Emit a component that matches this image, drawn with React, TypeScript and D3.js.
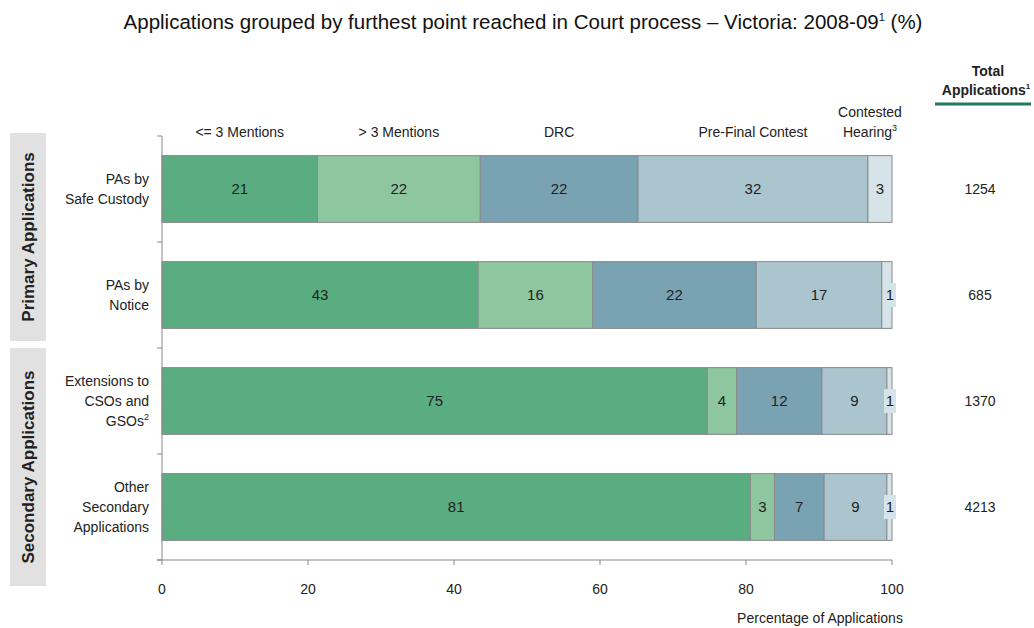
import React from "react";
import * as d3 from "d3";

const categories = ["PAs by Safe Custody", "PAs by Notice", "Extensions to CSOs and GSOs", "Other Secondary Applications"];
const categoryLines = [
  [["PAs by"], ["Safe Custody"]],
  [["PAs by"], ["Notice"]],
  [["Extensions to"], ["CSOs and"], ["GSOs", "2"]],
  [["Other"], ["Secondary"], ["Applications"]],
];
const stages = ["<= 3 Mentions", "> 3 Mentions", "DRC", "Pre-Final Contest", "Contested Hearing"];
const colors = ["#5aad80", "#8ec6a0", "#79a2b2", "#abc5cf", "#d6e3e8"];

// percentages per category, in stage order
const mentionsLow = [21.3, 43.3, 74.7, 80.6];
const mentionsHigh = [22.3, 15.7, 4.0, 3.3];
const drc = [21.6, 22.4, 11.7, 6.8];
const preFinal = [31.5, 17.2, 8.9, 8.6];
const contested = [3.3, 1.4, 0.7, 0.7];
const totals = [1254, 685, 1370, 4213];
const xTicks = [0, 20, 40, 60, 80, 100];

const groups = [
  { name: "Primary Applications", y0: 133, y1: 341 },
  { name: "Secondary Applications", y0: 348, y1: 586 },
];

const narrow = "'Liberation Sans Narrow', 'Arial Narrow', 'Liberation Sans', Arial, sans-serif";
const sans = "'Liberation Sans', Arial, sans-serif";

export default function App() {
  const width = 1034;
  const height = 628;

  const x = d3.scaleLinear().domain([0, 100]).range([162, 892]);
  const y = d3.scaleBand().domain(categories).range([136, 560]).paddingInner(0.37).paddingOuter(0.185);

  const rows = categories.map((c, i) => ({
    cat: c,
    v0: mentionsLow[i],
    v1: mentionsHigh[i],
    v2: drc[i],
    v3: preFinal[i],
    v4: contested[i],
  }));
  const stack = d3.stack().keys(["v0", "v1", "v2", "v3", "v4"])(rows as any);

  const bw = y.bandwidth();
  const step = y.step();
  const yTickPos = d3.range(categories.length + 1).map((i) => 136 + i * step);

  return (
    <svg width={width} height={height} style={{ position: "absolute", left: 0, top: 0, background: "#fff" }}>
      <text x={523} y={29} textAnchor="middle" fontFamily={sans} fontSize={20.5} fill="#111">
        Applications grouped by furthest point reached in Court process – Victoria: 2008-09
        <tspan fontSize={11} dy={-8}>1</tspan>
        <tspan dy={8}> (%)</tspan>
      </text>

      {/* group boxes */}
      {groups.map((g) => (
        <g key={g.name}>
          <rect x={10} y={g.y0} width={36} height={g.y1 - g.y0} fill="#e1e1e1" />
          <text
            transform={`translate(34,${(g.y0 + g.y1) / 2}) rotate(-90)`}
            textAnchor="middle"
            fontFamily={sans}
            fontWeight="bold"
            fontSize={17}
            fill="#222"
          >
            {g.name}
          </text>
        </g>
      ))}

      {/* stage headers */}
      {stack.map((s, k) => {
        const d = s[0];
        const cx = Math.min((x(d[0]) + x(d[1])) / 2, x(100) - 22);
        if (k === 4) {
          return (
            <text key={k} x={cx} textAnchor="middle" fontFamily={narrow} fontSize={14} fill="#222">
              <tspan x={cx} y={117}>Contested</tspan>
              <tspan x={cx} y={137}>Hearing<tspan fontSize={9} dy={-6}>3</tspan></tspan>
            </text>
          );
        }
        return (
          <text key={k} x={cx} y={137} textAnchor="middle" fontFamily={narrow} fontSize={14} fill="#222">
            {stages[k]}
          </text>
        );
      })}

      {/* bars */}
      {stack.map((s, k) =>
        s.map((d, i) => (
          <rect
            key={`${k}-${i}`}
            x={x(d[0])}
            y={y(categories[i])}
            width={x(d[1]) - x(d[0])}
            height={bw}
            fill={colors[k]}
            stroke="#8a8a8a"
            strokeWidth={1}
          />
        ))
      )}

      {/* bar labels */}
      {stack.map((s, k) =>
        s.map((d, i) => {
          const v = d[1] - d[0];
          const cy = (y(categories[i]) as number) + bw / 2;
          const small = v < 2;
          const cx = small ? x(d[1]) - 2 : (x(d[0]) + x(d[1])) / 2;
          return (
            <g key={`l${k}-${i}`}>
              {small && <rect x={cx - 6} y={cy - 12} width={12} height={24} fill="#d6e3e8" />}
              <text x={cx} y={cy + 5} textAnchor="middle" fontFamily={narrow} fontSize={15} fill="#222">
                {Math.round(v)}
              </text>
            </g>
          );
        })
      )}

      {/* y axis */}
      <line x1={162} x2={162} y1={136} y2={560} stroke="#888" />
      {yTickPos.map((p, i) => (
        <line key={i} x1={157} x2={162} y1={p} y2={p} stroke="#888" />
      ))}

      {/* category labels */}
      {categoryLines.map((lines, i) => {
        const cy = (y(categories[i]) as number) + bw / 2;
        const lh = 20;
        const top = cy - ((lines.length - 1) * lh) / 2 + 5;
        return (
          <text key={i} textAnchor="end" fontFamily={narrow} fontSize={14} fill="#222">
            {lines.map((ln, j) => (
              <tspan key={j} x={149} y={top + j * lh}>
                {ln[0]}
                {ln[1] && <tspan fontSize={9} dy={-6}>{ln[1]}</tspan>}
              </tspan>
            ))}
          </text>
        );
      })}

      {/* x axis */}
      <line x1={157} x2={892} y1={560} y2={560} stroke="#888" />
      {xTicks.map((t) => (
        <g key={t}>
          <line x1={x(t)} x2={x(t)} y1={560} y2={565} stroke="#888" />
          <text x={x(t)} y={594} textAnchor="middle" fontFamily={narrow} fontSize={14} fill="#222">
            {t}
          </text>
        </g>
      ))}
      <text x={820} y={623} textAnchor="middle" fontFamily={narrow} fontSize={14} fill="#222">
        Percentage of Applications
      </text>

      {/* totals column */}
      <text textAnchor="middle" fontFamily={narrow} fontWeight="bold" fontSize={14} fill="#222">
        <tspan x={988} y={76}>Total</tspan>
        <tspan x={986} y={95}>Applications<tspan fontSize={8} dy={-6}>1</tspan></tspan>
      </text>
      <line x1={935} x2={1031} y1={104} y2={104} stroke="#237a5c" strokeWidth={3} />
      {totals.map((t, i) => (
        <text
          key={i}
          x={980}
          y={(y(categories[i]) as number) + bw / 2 + 5}
          textAnchor="middle"
          fontFamily={narrow}
          fontSize={14}
          fill="#222"
        >
          {t}
        </text>
      ))}
    </svg>
  );
}
